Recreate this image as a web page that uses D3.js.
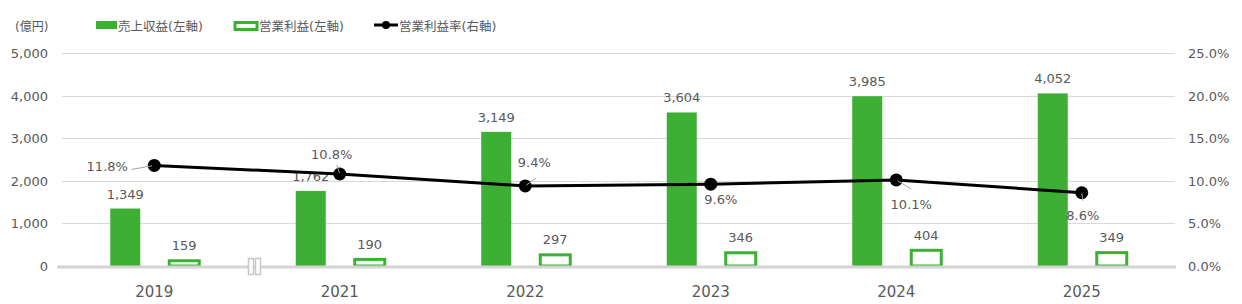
<!DOCTYPE html>
<html>
<head>
<meta charset="utf-8">
<script src="https://cdn.jsdelivr.net/npm/d3@7"></script>
<style>
  body { margin: 0; background: #fff; }
  text { font-family: "DejaVu Sans", "Noto Sans CJK JP", sans-serif; }
</style>
</head>
<body>
<div id="chart"></div>
<script>
// data
var years = ["2019", "2021", "2022", "2023", "2024", "2025"];
var revenue = [1349, 1762, 3149, 3604, 3985, 4052];
var opProfit = [159, 190, 297, 346, 404, 349];
var opMargin = [11.8, 10.8, 9.4, 9.6, 10.1, 8.6];
var leftTicks = [0, 1000, 2000, 3000, 4000, 5000];
var rightTicks = [0, 5, 10, 15, 20, 25];
var legendText = ["売上収益(左軸)", "営業利益(左軸)", "営業利益率(右軸)"];

// label placement for the margin line (dx, dy from point, leader end)
var rateLabelPos = [
  { dx: -47, dy: 6, lead: [-23, 4] },
  { dx: -8, dy: -15, lead: [-3, -9] },
  { dx: 9, dy: -19, lead: [11, -8] },
  { dx: 10, dy: 20, lead: [0, 0] },
  { dx: 15, dy: 29, lead: [15, 9] },
  { dx: 1, dy: 27, lead: [1, 8] }
];

var width = 1242, height = 304;
var green = "#3DAF35";
var textCol = "#595959";

var svg = d3.select("#chart").append("svg")
  .attr("width", width)
  .attr("height", height);

var x = d3.scaleBand()
  .domain(years)
  .range([61.5, 1174.5])
  .padding(0);

var yL = d3.scaleLinear().domain([0, 5000]).range([266, 53]);
var yR = d3.scaleLinear().domain([0, 25]).range([266, 53]);

function cx(i) { return x(years[i]) + x.bandwidth() / 2; }

// gridlines
svg.append("g").selectAll("line")
  .data(leftTicks.slice(1))
  .enter().append("line")
    .attr("x1", 62).attr("x2", 1175)
    .attr("y1", function(d) { return Math.round(yL(d)) + 0.5; })
    .attr("y2", function(d) { return Math.round(yL(d)) + 0.5; })
    .style("stroke", "#d9d9d9")
    .style("stroke-width", 1);

// left axis labels
svg.append("g").selectAll("text")
  .data(leftTicks)
  .enter().append("text")
    .attr("x", 48)
    .attr("y", function(d) { return yL(d) + 5; })
    .attr("text-anchor", "end")
    .style("font-size", "13px")
    .style("fill", textCol)
    .text(function(d) { return d3.format(",")(d); });

// right axis labels
svg.append("g").selectAll("text")
  .data(rightTicks)
  .enter().append("text")
    .attr("x", 1188)
    .attr("y", function(d) { return yR(d) + 5; })
    .style("font-size", "13px")
    .style("fill", textCol)
    .text(function(d) { return d.toFixed(1) + "%"; });

svg.append("text")
  .attr("x", 15).attr("y", 31)
  .style("font-size", "12px")
  .style("fill", textCol)
  .text("(億円)");

// revenue bars
var barW = 30;
svg.append("g").selectAll("rect")
  .data(revenue)
  .enter().append("rect")
    .attr("x", function(d, i) { return cx(i) - 29 - barW / 2; })
    .attr("y", function(d) { return yL(d); })
    .attr("width", barW)
    .attr("height", function(d) { return yL(0) - yL(d); })
    .style("fill", green);

// operating profit bars (outlined)
svg.append("g").selectAll("rect")
  .data(opProfit)
  .enter().append("rect")
    .attr("x", function(d, i) { return cx(i) + 30 - barW / 2; })
    .attr("y", function(d) { return yL(d) + 1.5; })
    .attr("width", barW)
    .attr("height", function(d) { return yL(0) - yL(d) - 1.5; })
    .style("fill", "#fff")
    .style("stroke", green)
    .style("stroke-width", 3);

// baseline
svg.append("line")
  .attr("x1", 57).attr("x2", 1176)
  .attr("y1", yL(0) + 1).attr("y2", yL(0) + 1)
  .style("stroke", "#d4d4d4")
  .style("stroke-width", 3);

// axis break marker between 2019 and 2021
var bx = x(years[1]) + 8;
[-4, 3].forEach(function(o) {
  svg.append("rect")
    .attr("x", bx + o - 2.5).attr("y", 258.5)
    .attr("width", 5).attr("height", 16)
    .style("fill", "#fff")
    .style("stroke", "#c8c8c8")
    .style("stroke-width", 1.5);
});

// bar labels
svg.append("g").selectAll("text")
  .data(revenue)
  .enter().append("text")
    .attr("x", function(d, i) { return cx(i) - 29; })
    .attr("y", function(d) { return yL(d) - 10; })
    .attr("text-anchor", "middle")
    .style("font-size", "13px")
    .style("fill", textCol)
    .text(function(d) { return d3.format(",")(d); });

svg.append("g").selectAll("text")
  .data(opProfit)
  .enter().append("text")
    .attr("x", function(d, i) { return cx(i) + 30; })
    .attr("y", function(d) { return yL(d) - 9; })
    .attr("text-anchor", "middle")
    .style("font-size", "13px")
    .style("fill", textCol)
    .text(function(d) { return d3.format(",")(d); });

// margin line
var line = d3.line()
  .x(function(d, i) { return cx(i); })
  .y(function(d) { return yR(d); });

svg.append("path")
  .datum(opMargin)
  .attr("d", line)
  .style("fill", "none")
  .style("stroke", "#000")
  .style("stroke-width", 3);

svg.append("g").selectAll("circle")
  .data(opMargin)
  .enter().append("circle")
    .attr("cx", function(d, i) { return cx(i); })
    .attr("cy", function(d) { return yR(d); })
    .attr("r", 6.5)
    .style("fill", "#000");

// leader lines, drawn over the dots
svg.append("g").selectAll("line")
  .data(opMargin)
  .enter().append("line")
    .attr("x1", function(d, i) { return cx(i) + rateLabelPos[i].lead[0] * 0.1; })
    .attr("y1", function(d, i) { return yR(d) + rateLabelPos[i].lead[1] * 0.1; })
    .attr("x2", function(d, i) { return cx(i) + rateLabelPos[i].lead[0]; })
    .attr("y2", function(d, i) { return yR(d) + rateLabelPos[i].lead[1]; })
    .style("stroke", "#a6a6a6")
    .style("stroke-width", 1);

svg.append("g").selectAll("text")
  .data(opMargin)
  .enter().append("text")
    .attr("x", function(d, i) { return cx(i) + rateLabelPos[i].dx; })
    .attr("y", function(d, i) { return yR(d) + rateLabelPos[i].dy; })
    .attr("text-anchor", "middle")
    .style("font-size", "13px")
    .style("fill", textCol)
    .text(function(d) { return d.toFixed(1) + "%"; });

// x axis labels
svg.append("g").selectAll("text")
  .data(years)
  .enter().append("text")
    .attr("x", function(d) { return x(d) + x.bandwidth() / 2; })
    .attr("y", 297)
    .attr("text-anchor", "middle")
    .style("font-size", "15px")
    .style("fill", textCol)
    .text(function(d) { return d; });

// legend
var lg = svg.append("g");
lg.append("rect")
  .attr("x", 96).attr("y", 21).attr("width", 21).attr("height", 8)
  .style("fill", green);
lg.append("rect")
  .attr("x", 235).attr("y", 22.5).attr("width", 22).attr("height", 7)
  .style("fill", "#fff")
  .style("stroke", green)
  .style("stroke-width", 3);
lg.append("line")
  .attr("x1", 374).attr("x2", 398).attr("y1", 25).attr("y2", 25)
  .style("stroke", "#000").style("stroke-width", 3);
lg.append("circle")
  .attr("cx", 386).attr("cy", 25).attr("r", 4)
  .style("fill", "#000");

lg.selectAll("text.leg")
  .data(legendText)
  .enter().append("text")
    .attr("class", "leg")
    .attr("x", function(d, i) { return [118, 259, 399][i]; })
    .attr("y", 31)
    .style("font-size", "12.5px")
    .style("fill", textCol)
    .text(function(d) { return d; });
</script>
</body>
</html>
